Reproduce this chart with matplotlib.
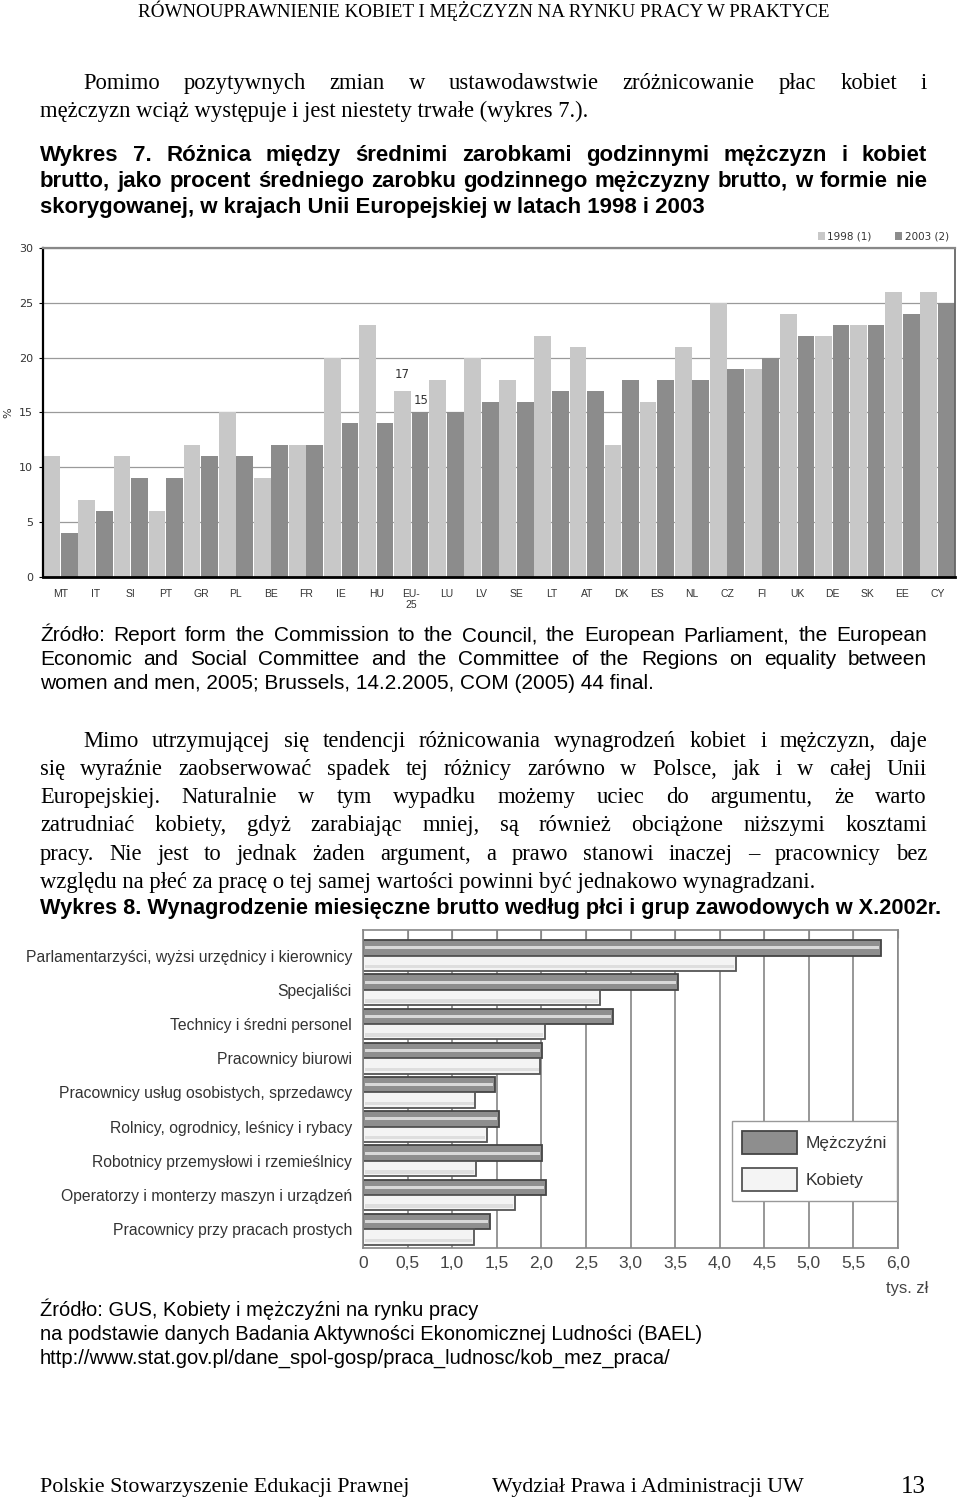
import numpy as np
import matplotlib
matplotlib.use('Agg')
import matplotlib.pyplot as plt
from matplotlib import font_manager
from matplotlib.patches import Patch

# chart 1: gender pay gap (% of male hourly wage), 1998 vs 2003
countries = ['MT', 'IT', 'SI', 'PT', 'GR', 'PL', 'BE', 'FR', 'IE', 'HU', 'EU-\n25', 'LU', 'LV',
             'SE', 'LT', 'AT', 'DK', 'ES', 'NL', 'CZ', 'FI', 'UK', 'DE', 'SK', 'EE', 'CY']
gap_1998 = [11, 7, 11, 6, 12, 15, 9, 12, 20, 23, 17, 18, 20,
            18, 22, 21, 12, 16, 21, 25, 19, 24, 22, 23, 26, 26]
gap_2003 = [4, 6, 9, 9, 11, 11, 12, 12, 14, 14, 15, 15, 16,
            16, 17, 17, 18, 18, 18, 19, 20, 22, 23, 23, 24, 25]
series_labels = ['1998 (1)', '2003 (2)']

# chart 2: monthly gross wage by sex and occupation group (thousand PLN)
groups = ['Parlamentarzyści, wyżsi urzędnicy i kierownicy', 'Specjaliści',
          'Technicy i średni personel', 'Pracownicy biurowi',
          'Pracownicy usług osobistych, sprzedawcy', 'Rolnicy, ogrodnicy, leśnicy i rybacy',
          'Robotnicy przemysłowi i rzemieślnicy', 'Operatorzy i monterzy maszyn i urządzeń',
          'Pracownicy przy pracach prostych']
men = [5.81, 3.53, 2.80, 2.01, 1.48, 1.52, 2.01, 2.05, 1.42]
women = [4.18, 2.66, 2.04, 1.99, 1.26, 1.39, 1.27, 1.70, 1.24]
sex_labels = ['Mężczyźni', 'Kobiety']
wage_ticks = np.arange(0, 6.01, 0.5)


def has_font(name):
    try:
        font_manager.findfont(font_manager.FontProperties(family=name), fallback_to_default=False)
        return True
    except ValueError:
        return False


SERIF = 'Liberation Serif'
SANS = 'Liberation Sans'
NARROW = 'Liberation Sans Narrow' if has_font('Liberation Sans Narrow') else SANS

W, H = 960, 1498
fig = plt.figure(figsize=(W / 100, H / 100), dpi=100, facecolor='white')
renderer = fig.canvas.get_renderer()


def fx(x):
    return x / W


def fy(y):
    return 1 - y / H


def measure(s, size, **kw):
    t = fig.text(0, 0, s, fontsize=size, **kw)
    w = t.get_window_extent(renderer).width
    t.remove()
    return w


def paragraph(lines, baselines, x1, size, **kw):
    # shrink the font if a justified line would not fit
    for s, x0, just in lines:
        if just:
            nat = measure(s, size, **kw)
            if nat > x1 - x0:
                size = size * (x1 - x0) / nat * 0.985
    for (s, x0, just), yb in zip(lines, baselines):
        if not just:
            fig.text(fx(x0), fy(yb), s, fontsize=size, va='baseline', **kw)
            continue
        words = s.split(' ')
        widths = [measure(w, size, **kw) for w in words]
        gap = (x1 - x0 - sum(widths)) / (len(words) - 1)
        x = x0
        for w, wd in zip(words, widths):
            fig.text(fx(x), fy(yb), w, fontsize=size, va='baseline', **kw)
            x += wd + gap


# page header
hdr = 'RÓWNOUPRAWNIENIE KOBIET I MĘŻCZYZN NA RYNKU PRACY W PRAKTYCE'
hsize = 12 * 692 / measure(hdr, 12, family=SERIF)
fig.text(fx(484), fy(17), hdr, fontsize=hsize, family=SERIF, ha='center', va='baseline')

paragraph([('Pomimo pozytywnych zmian w ustawodawstwie zróżnicowanie płac kobiet i', 83, True),
           ('mężczyzn wciąż występuje i jest niestety trwałe (wykres 7.).', 40, False)],
          [89, 117], 927, 16.3, family=SERIF)

paragraph([('Wykres 7. Różnica między średnimi zarobkami godzinnymi mężczyzn i kobiet', 40, True),
           ('brutto, jako procent średniego zarobku godzinnego mężczyzny brutto, w formie nie', 40, True),
           ('skorygowanej, w krajach Unii Europejskiej w latach 1998 i 2003', 40, False)],
          [161, 187, 213], 927, 16, family=SANS, weight='bold')

# ---- chart 1 ----
ax1 = fig.add_axes([fx(43), fy(577), (955 - 43) / W, (577 - 248) / H])
x = np.arange(len(countries))
ax1.bar(x - 0.25, gap_1998, width=0.476, color='#c8c8c8', label=series_labels[0], zorder=2)
ax1.bar(x + 0.25, gap_2003, width=0.476, color='#8c8c8c', label=series_labels[1], zorder=2)
ax1.set_xlim(-0.5, len(countries) - 0.5)
ax1.set_ylim(0, 30)
ax1.set_yticks(range(0, 31, 5))
ax1.set_xticks(x)
ax1.set_xticklabels(countries, fontsize=7.5, color='#333', family=SANS, linespacing=1.1)
ax1.tick_params(axis='x', length=0, pad=9)
ax1.tick_params(axis='y', labelsize=8, labelcolor='#333', length=3, pad=4)
ax1.grid(axis='y', color='#9a9a9a', lw=0.9, zorder=0)
ax1.set_axisbelow(True)
ax1.spines['left'].set_linewidth(1.6)
ax1.spines['bottom'].set_linewidth(2)
ax1.spines['top'].set_color('#888')
ax1.spines['top'].set_linewidth(1.6)
ax1.spines['right'].set_color('#666')
ax1.spines['right'].set_linewidth(1.3)
ax1.set_ylabel('%', fontsize=8, color='#333', labelpad=4)
eu = countries.index('EU-\n25')
ax1.annotate(str(gap_1998[eu]), (eu - 0.25, gap_1998[eu]), xytext=(0, 9), textcoords='offset points',
             ha='center', fontsize=8.5, color='#333')
ax1.annotate(str(gap_2003[eu]), (eu + 0.25, gap_2003[eu]), xytext=(1, 6), textcoords='offset points',
             ha='center', fontsize=8.5, color='#333')
ax1.legend(loc='lower right', bbox_to_anchor=(1.0, 1.0), ncol=2, frameon=False, fontsize=7.5,
           handlelength=0.7, handleheight=0.7, handletextpad=0.25, columnspacing=2.2,
           borderaxespad=0.2, labelcolor='#333')

paragraph([('Źródło: Report form the Commission to the Council, the European Parliament, the European', 40, True),
           ('Economic and Social Committee and the Committee of the Regions on equality between', 40, True),
           ('women and men, 2005; Brussels, 14.2.2005, COM (2005) 44 final.', 40, False)],
          [641, 665, 689], 927, 15, family=SANS)

paragraph([('Mimo utrzymującej się tendencji różnicowania wynagrodzeń kobiet i mężczyzn, daje', 83, True),
           ('się wyraźnie zaobserwować spadek tej różnicy zarówno w Polsce, jak i w całej Unii', 40, True),
           ('Europejskiej. Naturalnie w tym wypadku możemy uciec do argumentu, że warto', 40, True),
           ('zatrudniać kobiety, gdyż zarabiając mniej, są również obciążone niższymi kosztami', 40, True),
           ('pracy. Nie jest to jednak żaden argument, a prawo stanowi inaczej – pracownicy bez', 40, True),
           ('względu na płeć za pracę o tej samej wartości powinni być jednakowo wynagradzani.', 40, False)],
          [747, 775, 803, 831, 860, 888], 927, 16.3, family=SERIF)

h8 = 'Wykres 8. Wynagrodzenie miesięczne brutto według płci i grup zawodowych w X.2002r.'
h8size = min(16, 14 * 900 / measure(h8, 14, family=SANS, weight='bold'))
fig.text(fx(40), fy(914), h8, fontsize=h8size, family=SANS, weight='bold', va='baseline')

# ---- chart 2 ----
ax2 = fig.add_axes([fx(363), fy(1248), (898 - 363) / W, (1248 - 930) / H])
y = np.arange(len(groups))
ax2.barh(y - 0.225, men, height=0.45, color='#8e8e8e', edgecolor='#444', lw=1.3, zorder=2)
ax2.barh(y - 0.225, np.array(men) - 0.04, left=0.02, height=0.09, color='#d8d8d8', zorder=3)
ax2.barh(y + 0.225, women, height=0.45, color='#f4f4f4', edgecolor='#555', lw=1.3, zorder=2)
ax2.barh(y + 0.225 + 0.1, np.array(women) - 0.04, left=0.02, height=0.1, color='#dedede', zorder=3)
ax2.set_xlim(0, 6)
ax2.set_ylim(len(groups) - 0.45, -0.75)
ax2.set_xticks(wage_ticks)
ax2.set_xticklabels([f'{v:.1f}'.replace('.', ',').replace('0,0', '0') for v in wage_ticks],
                    fontsize=12.5, color='#444', family=NARROW)
ax2.tick_params(axis='x', top=True, bottom=False, direction='in', length=6, color='#888', pad=6)
ax2.grid(axis='x', color='#7a7a7a', lw=1.1, zorder=0)
ax2.set_axisbelow(True)
ax2.set_yticks(y)
lsize = 12.5
longest = max(measure(g, lsize, family=NARROW) for g in groups)
lsize = min(lsize, lsize * 327 / longest)
ax2.set_yticklabels(groups, fontsize=lsize, color='#333', family=NARROW)
ax2.tick_params(axis='y', length=0, pad=8)
for s in ax2.spines.values():
    s.set_color('#888')
    s.set_linewidth(1.2)
handles = [Patch(facecolor='#8e8e8e', edgecolor='#444', lw=1.3),
           Patch(facecolor='#f4f4f4', edgecolor='#555', lw=1.3)]
ax2.legend(handles, sex_labels, loc='upper left', bbox_to_anchor=(fx(732), fy(1121)),
           bbox_transform=fig.transFigure, handlelength=3.2, handleheight=1.7,
           handletextpad=0.5, labelspacing=0.8, borderpad=0.55, borderaxespad=0,
           fancybox=False, edgecolor='#999', framealpha=1,
           prop={'family': NARROW, 'size': 12.5}, labelcolor='#333')
fig.text(fx(886), fy(1293), 'tys. zł', fontsize=12, color='#444', family=NARROW, va='baseline')

for s, yb in zip(['Źródło: GUS, Kobiety i mężczyźni na rynku pracy',
                  'na podstawie danych Badania Aktywności Ekonomicznej Ludności (BAEL)',
                  'http://www.stat.gov.pl/dane_spol-gosp/praca_ludnosc/kob_mez_praca/'],
                 [1316, 1340, 1364]):
    fig.text(fx(40), fy(yb), s, fontsize=14.5, family=SANS, va='baseline')

# footer
fig.text(fx(40), fy(1492), 'Polskie Stowarzyszenie Edukacji Prawnej', fontsize=15.8, family=SERIF, va='baseline')
fig.text(fx(492), fy(1492), 'Wydział Prawa i Administracji UW', fontsize=15.8, family=SERIF, va='baseline')
fig.text(fx(926), fy(1487), '13', fontsize=18, family=SERIF, va='center', ha='right')

fig.savefig('out.png', dpi=100, facecolor='white')
